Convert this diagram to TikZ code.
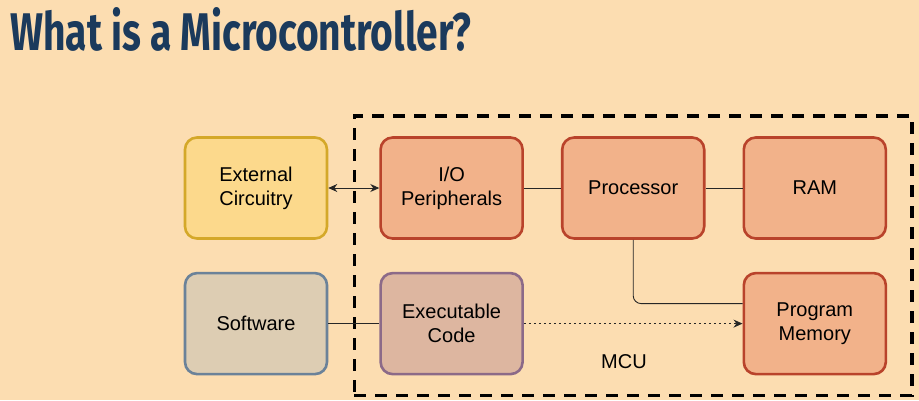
\documentclass[tikz,border=0pt]{standalone}
\usepackage{fontspec}
\setmainfont{Liberation Sans}
\newfontfamily\titlefont[FakeStretch=0.735]{Fira Sans}
\usetikzlibrary{positioning,fit,arrows.meta,calc}
\definecolor{bgpeach}{HTML}{FCDDB1}
\definecolor{titleblue}{HTML}{1B3A5C}
\definecolor{extfill}{HTML}{FCD98C}
\definecolor{extdraw}{HTML}{D4A829}
\definecolor{mcufill}{HTML}{F2B28A}
\definecolor{mcudraw}{HTML}{B9432B}
\definecolor{swfill}{HTML}{DDCDB3}
\definecolor{swdraw}{HTML}{6B8299}
\definecolor{exfill}{HTML}{DDB6A0}
\definecolor{exdraw}{HTML}{8C6A88}

\begin{document}
\begin{tikzpicture}[
  x=1pt,y=-1pt,
  block/.style={draw,line width=2.6pt,rounded corners=12pt,align=center,font=\fontsize{20}{24}\selectfont,minimum width=142pt,minimum height=101pt,inner sep=0pt},
  container/.style={draw,dashed,line width=3.5pt,dash pattern=on 12pt off 9pt,inner xsep=25pt,inner ysep=20pt},
  conn/.style={black!85,line width=0.9pt},
  arr/.style={conn,-{Stealth[length=9pt,width=8pt]}}
]
\fill[bgpeach] (0,0) rectangle (919,400);
\useasboundingbox (0,0) rectangle (919,400);

% Title
\node[anchor=base west,inner sep=0pt,text=titleblue,font=\titlefont\bfseries\fontsize{53}{57}\selectfont] (title) at (10,50) {What is a Microcontroller?};

% Top row
\node[block,draw=extdraw,fill=extfill] (ext) at (256,188) {External\\Circuitry};
\node[block,draw=mcudraw,fill=mcufill,right=51pt of ext] (io) {I/O\\Peripherals};
\node[block,draw=mcudraw,fill=mcufill,right=37pt of io] (proc) {Processor};
\node[block,draw=mcudraw,fill=mcufill,right=37pt of proc] (ram) {RAM};

% Bottom row
\node[block,draw=swdraw,fill=swfill,below=32pt of ext] (sw) {Software};
\node[block,draw=exdraw,fill=exfill,below=32pt of io] (exe) {Executable\\Code};
\node[block,draw=mcudraw,fill=mcufill,below=32pt of ram] (pmem) {Program\\Memory};

% MCU boundary
\node[container,fit=(io)(pmem)] (mcu) {};
\node[font=\fontsize{20}{24}\selectfont] (mculabel) at (624,362) {MCU};

% Connectors
\draw[conn,{Stealth[length=9pt,width=8pt]}-{Stealth[length=9pt,width=8pt]}] (ext.east) -- (io.west);
\draw[conn] (io.east) -- (proc.west);
\draw[conn] (proc.east) -- (ram.west);
\draw[conn,rounded corners=8pt] (proc.south) |- ([yshift=20pt]pmem.west);
\draw[conn] (sw.east) -- (exe.west);
\draw[arr,dash pattern=on 2pt off 3pt] (exe.east) -- (pmem.west);
\end{tikzpicture}
\end{document}
